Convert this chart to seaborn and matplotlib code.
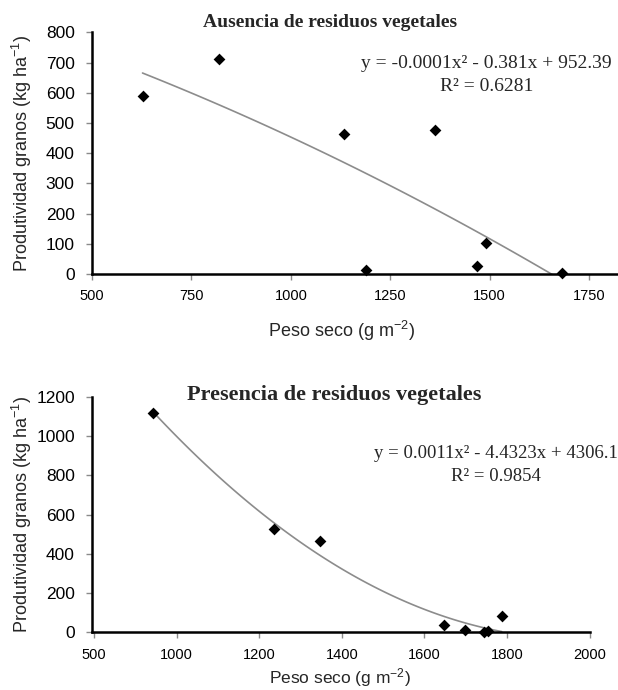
import numpy as np
import pandas as pd
import matplotlib
matplotlib.use("Agg")
import matplotlib.pyplot as plt
import seaborn as sns

# ---- data ----
peso_ausencia = [627, 820, 1133, 1188, 1362, 1468, 1490, 1682]
prod_ausencia = [590, 712, 462, 13, 477, 27, 103, 2]

peso_presencia = [943, 1235, 1347, 1647, 1699, 1744, 1754, 1787]
prod_presencia = [1120, 527, 466, 38, 10, 2, 5, 82]

top_xticks = [500, 750, 1000, 1250, 1500, 1750]
top_xticklabels = ["500", "750", "1000", "1250", "1500", "1750"]
top_yticks = [0, 100, 200, 300, 400, 500, 600, 700, 800]

bot_xticks = [800, 1000, 1200, 1400, 1600, 1800, 2000]
bot_xticklabels = ["500", "1000", "1200", "1400", "1600", "1800", "2000"]
bot_yticks = [0, 200, 400, 600, 800, 1000, 1200]

title_top = "Ausencia de residuos vegetales"
title_bot = "Presencia de residuos vegetales"
eq_top = "y = -0.0001x² - 0.381x + 952.39"
r2_top = "R² = 0.6281"
eq_bot = "y = 0.0011x² - 4.4323x + 4306.1"
r2_bot = "R² = 0.9854"
ylabel = r"Produtividad granos (kg ha$^{\mathregular{-1}}$)"
xlabel = r"Peso seco (g m$^{\mathregular{-2}}$)"

sns.set_theme(style="white")
plt.rcParams["font.family"] = ["Liberation Sans", "DejaVu Sans"]
plt.rcParams["mathtext.fontset"] = "custom"
plt.rcParams["mathtext.rm"] = "Liberation Sans"
plt.rcParams["mathtext.it"] = "Liberation Sans:italic"

W, H = 618, 690
fig = plt.figure(figsize=(W / 100, H / 100), dpi=100)
# top axes: x 92..617 px, y 32.3..274 px
ax1 = fig.add_axes([92 / W, 1 - 274 / H, 525 / W, 241.7 / H])
# bottom axes: x 92.3..589.7 px, y 397..632.3 px
ax2 = fig.add_axes([92.3 / W, 1 - 632.3 / H, 497.4 / W, 235.3 / H])

serif = ["Liberation Serif", "DejaVu Serif"]
tick_grey = "#8a8a8a"

def style(ax):
    for s in ["top", "right"]:
        ax.spines[s].set_visible(False)
    for s in ["left", "bottom"]:
        ax.spines[s].set_color("black")
        ax.spines[s].set_linewidth(1.8)
    ax.tick_params(axis="both", direction="out", length=4, width=1.0, color=tick_grey,
                   left=True, bottom=True)
    ax.tick_params(axis="y", pad=8.5, labelsize=12.5, labelcolor="black")
    ax.tick_params(axis="x", pad=7, labelsize=10.5, labelcolor="black")
    ax.grid(False)

line_kws = dict(color="#8c8c8c", lw=1.2)

# top
df1 = pd.DataFrame({"x": peso_ausencia, "y": prod_ausencia})
sns.regplot(data=df1, x="x", y="y", order=2, ci=None, scatter=False, truncate=True,
            line_kws=line_kws, ax=ax1)
sns.scatterplot(data=df1, x="x", y="y", marker="D", s=36, color="black",
                edgecolor="black", linewidth=0, ax=ax1, zorder=3, clip_on=False)
ax1.set_xlim(500, 1820)
ax1.set_ylim(0, 800)
ax1.set_xticks(top_xticks)
ax1.set_xticklabels(top_xticklabels)
ax1.set_yticks(top_yticks)
style(ax1)
ax1.set_xlabel(xlabel, fontsize=13)
ax1.set_ylabel(ylabel, fontsize=13)
ax1.xaxis.set_label_coords(0.476, -0.185)
ax1.yaxis.set_label_coords(-0.11, 0.5)
ax1.text(0.453, 1.0385, title_top, transform=ax1.transAxes, ha="center", va="center",
         fontsize=14, fontweight="bold", family=serif)
ax1.text(0.752, 0.872, eq_top, transform=ax1.transAxes, ha="center", va="center",
         fontsize=14, family=serif)
ax1.text(0.752, 0.775, r2_top, transform=ax1.transAxes, ha="center", va="center",
         fontsize=14, family=serif)

# bottom
df2 = pd.DataFrame({"x": peso_presencia, "y": prod_presencia})
sns.regplot(data=df2, x="x", y="y", order=2, ci=None, scatter=False, truncate=True,
            line_kws=line_kws, ax=ax2)
sns.scatterplot(data=df2, x="x", y="y", marker="D", s=36, color="black",
                edgecolor="black", linewidth=0, ax=ax2, zorder=3, clip_on=False)
ax2.set_xlim(796, 2000)
ax2.set_ylim(0, 1200)
ax2.set_xticks(bot_xticks)
ax2.set_xticklabels(bot_xticklabels)
ax2.set_yticks(bot_yticks)
style(ax2)
ax2.set_xlabel(xlabel, fontsize=12.5)
ax2.set_ylabel(ylabel, fontsize=13)
ax2.xaxis.set_label_coords(0.498, -0.143)
ax2.yaxis.set_label_coords(-0.117, 0.5)
ax2.text(0.487, 1.0085, title_bot, transform=ax2.transAxes, ha="center", va="center",
         fontsize=16, fontweight="bold", family=serif)
ax2.text(0.811, 0.761, eq_bot, transform=ax2.transAxes, ha="center", va="center",
         fontsize=13.5, family=serif)
ax2.text(0.811, 0.661, r2_bot, transform=ax2.transAxes, ha="center", va="center",
         fontsize=13.5, family=serif)

fig.savefig("out.png", dpi=100, facecolor="white")
